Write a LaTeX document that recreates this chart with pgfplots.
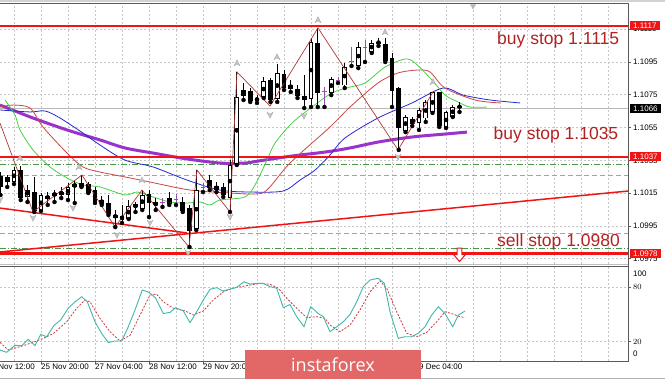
\documentclass[border=0pt]{standalone}
\usepackage{pgfplots}
\usepackage{pgfplotstable}
\pgfplotsset{compat=1.18}
\usepackage{fontspec}
\setmainfont{Liberation Sans}
\newfontfamily\wmfont{Open Sans}
\newcommand\lab{\fontsize{8bp}{9.6bp}\selectfont}
\definecolor{mapurple}{RGB}{153,51,204}
\definecolor{mablue}{RGB}{40,40,210}
\definecolor{mared}{RGB}{205,70,70}
\definecolor{magreen}{RGB}{70,210,70}
\definecolor{zz}{RGB}{175,55,55}
\definecolor{hred}{RGB}{240,20,20}
\definecolor{dgreen}{RGB}{70,150,70}
\definecolor{dorange}{RGB}{235,140,100}
\definecolor{labred}{RGB}{178,34,34}
\definecolor{stteal}{RGB}{64,184,170}
\definecolor{stred}{RGB}{200,60,70}
\definecolor{wm}{RGB}{226,104,104}
\definecolor{dojic}{RGB}{150,80,170}
\definecolor{frame}{RGB}{90,90,90}
% prices are shown relative to 1.1000 in pips on the drawing axis
\pgfplotsset{pip/.style={y filter/.expression={(y-1.1)*10000}}}

\pgfdeclareplotmark{fup}{%
 \pgfpathmoveto{\pgfqpoint{0pt}{3.2pt}}%
 \pgfpathlineto{\pgfqpoint{3pt}{-2.8pt}}%
 \pgfpathlineto{\pgfqpoint{0pt}{-1pt}}%
 \pgfpathlineto{\pgfqpoint{-3pt}{-2.8pt}}%
 \pgfpathclose\pgfusepathqfillstroke}
\pgfdeclareplotmark{fdown}{%
 \pgfpathmoveto{\pgfqpoint{0pt}{-3.2pt}}%
 \pgfpathlineto{\pgfqpoint{3pt}{2.8pt}}%
 \pgfpathlineto{\pgfqpoint{0pt}{1pt}}%
 \pgfpathlineto{\pgfqpoint{-3pt}{2.8pt}}%
 \pgfpathclose\pgfusepathqfillstroke}
\pgfdeclareplotmark{hdown}{%
 \pgfpathmoveto{\pgfqpoint{-2.4pt}{7pt}}%
 \pgfpathlineto{\pgfqpoint{2.4pt}{7pt}}%
 \pgfpathlineto{\pgfqpoint{2.4pt}{0.5pt}}%
 \pgfpathlineto{\pgfqpoint{6pt}{0.5pt}}%
 \pgfpathlineto{\pgfqpoint{0pt}{-6.5pt}}%
 \pgfpathlineto{\pgfqpoint{-6pt}{0.5pt}}%
 \pgfpathlineto{\pgfqpoint{-2.4pt}{0.5pt}}%
 \pgfpathclose\pgfusepathqfillstroke}

\pgfplotstableread{
i O H L C
3 1.10217 1.10260 1.10187 1.10242
4 1.10223 1.10309 1.10205 1.10290
6 1.10132 1.10199 1.10095 1.10168
8 1.10046 1.10150 1.10040 1.10138
10 1.10132 1.10168 1.10095 1.10150
11 1.10144 1.10187 1.10119 1.10156
12 1.10138 1.10211 1.10107 1.10181
13 1.10187 1.10229 1.10089 1.10205
17 1.10089 1.10132 1.10077 1.10107
21 1.09997 1.10107 1.09991 1.10071
22 1.10065 1.10095 1.10034 1.10077
23 1.10058 1.10168 1.10046 1.10138
25 1.10077 1.10119 1.10046 1.10089
27 1.10089 1.10156 1.10077 1.10119
31 1.09936 1.10290 1.09924 1.10168
34 1.10174 1.10217 1.10156 1.10193
36 1.10126 1.10351 1.10034 1.10321
37 1.10333 1.10889 1.10321 1.10736
38 1.10748 1.10822 1.10718 1.10779
40 1.10712 1.10748 1.10700 1.10730
41 1.10742 1.10858 1.10730 1.10828
43 1.10730 1.10938 1.10706 1.10883
48 1.10730 1.11097 1.10675 1.11072
51 1.10767 1.10858 1.10748 1.10846
53 1.10810 1.10944 1.10791 1.10919
55 1.10932 1.11072 1.10913 1.11042
57 1.11017 1.11084 1.11005 1.11066
62 1.10535 1.10626 1.10522 1.10614
64 1.10584 1.10669 1.10535 1.10657
65 1.10608 1.10718 1.10584 1.10700
66 1.10645 1.10767 1.10639 1.10761
68 1.10553 1.10651 1.10547 1.10639
69 1.10620 1.10687 1.10614 1.10675
}\bull
\pgfplotstableread{
i O H L C
2 1.10254 1.10278 1.10138 1.10193
5 1.10290 1.10315 1.10107 1.10126
7 1.10156 1.10248 1.10034 1.10046
9 1.10132 1.10156 1.10077 1.10119
14 1.10211 1.10260 1.10187 1.10187
15 1.10205 1.10217 1.10150 1.10156
16 1.10168 1.10187 1.10089 1.10095
18 1.10089 1.10138 1.10016 1.10028
19 1.10016 1.10046 1.09942 1.10003
20 1.10010 1.10077 1.09967 1.09991
24 1.10138 1.10168 1.10003 1.10089
29 1.10095 1.10126 1.10034 1.10046
30 1.10058 1.10077 1.09820 1.09924
33 1.10229 1.10260 1.10168 1.10187
35 1.10187 1.10211 1.10126 1.10144
39 1.10773 1.10791 1.10706 1.10718
42 1.10840 1.10852 1.10706 1.10718
44 1.10871 1.10901 1.10779 1.10797
45 1.10810 1.10840 1.10767 1.10791
46 1.10785 1.10810 1.10730 1.10748
47 1.10742 1.10871 1.10669 1.10718
49 1.11066 1.11158 1.10675 1.10767
58 1.11072 1.11097 1.11048 1.11066
59 1.11054 1.11097 1.10950 1.10962
60 1.10974 1.11005 1.10675 1.10779
61 1.10791 1.10797 1.10413 1.10547
63 1.10602 1.10614 1.10559 1.10577
67 1.10761 1.10767 1.10553 1.10565
70 1.10681 1.10706 1.10645 1.10675
}\bear
\pgfplotstableread{
i O H L C
26 1.10095 1.10119 1.10065 1.10095
28 1.10113 1.10144 1.10077 1.10113
32 1.10181 1.10211 1.10156 1.10181
50 1.10767 1.10797 1.10675 1.10767
52 1.10840 1.10858 1.10822 1.10840
54 1.10950 1.11042 1.10926 1.10950
56 1.11036 1.11084 1.10950 1.11036
}\doji

\begin{document}
\begin{tikzpicture}[x=1bp,y=1bp]
\useasboundingbox (0,0) rectangle (665,381);
\fill[white] (0,0) rectangle (665,381);
\fill[gray!35] (0,378.5) rectangle (665,381);

% ---------------- main price panel (y in pips above 1.1000) ----------------
\begin{axis}[
  at={(0bp,117bp)}, anchor=south west, scale only axis,
  width=628bp, height=260bp,
  xmin=0, xmax=628, ymin=-28.36, ymax=130.42,
  clip=false,
  axis line style={draw=none},
  xtick={14,41,...,608}, xticklabels={}, xtick style={draw=none},
  ytick={-25,-5,15,35,55,75,95,115},
  yticklabels={1.0975,1.0995,1.1015,1.1035,1.1055,1.1075,1.1095,1.1115},
  ytick pos=right, yticklabel pos=right,
  ytick style={draw=frame, line width=0.5bp},
  tick align=outside, major tick length=3bp,
  yticklabel style={font=\lab, anchor=west, inner sep=0pt, xshift=2bp},
  grid=major,
  major grid style={gray!45, line width=0.5bp, dash pattern=on 2bp off 2bp},
]
% horizontal levels
\addplot[pip, dgreen, line width=0.8bp, dash pattern=on 6bp off 2bp on 1bp off 2bp] coordinates {(0,1.10327) (628,1.10327)};
\addplot[pip, dgreen, line width=0.8bp, dash pattern=on 6bp off 2bp on 1bp off 2bp] coordinates {(0,1.09814) (628,1.09814)};
\addplot[pip, dorange, line width=0.8bp, dash pattern=on 5bp off 3bp] coordinates {(0,1.10260) (628,1.10260)};
\addplot[pip, dorange, line width=0.8bp, dash pattern=on 5bp off 3bp] coordinates {(0,1.09906) (628,1.09906)};
\addplot[pip, gray!55, line width=0.7bp] coordinates {(0,1.10665) (628,1.10665)};
% trend lines
\addplot[pip, hred, line width=1.5bp] coordinates {(0,1.10058) (187,1.09906)};
\addplot[pip, hred, line width=1.5bp] coordinates {(0,1.09790) (628,1.10162)};
% moving averages
\addplot[pip, mapurple, line width=3bp, smooth] coordinates {(0,1.10687)(33,1.10608)(67,1.10535)(100,1.10474)(125,1.10425)(153,1.10394)(187,1.10358)(220,1.10333)(245,1.10333)(258,1.10345)(292,1.10376)(325,1.10400)(350,1.10425)(378,1.10461)(412,1.10492)(445,1.10510)(467,1.10522)};
\addplot[pip, mablue, line width=0.8bp, smooth] coordinates {(0,1.10657)(30,1.10645)(45,1.10651)(60,1.10608)(83,1.10516)(100,1.10443)(125,1.10351)(153,1.10309)(187,1.10229)(220,1.10168)(250,1.10156)(283,1.10162)(300,1.10229)(315,1.10290)(330,1.10382)(345,1.10486)(378,1.10608)(412,1.10700)(443,1.10791)(463,1.10748)(490,1.10718)(520,1.10700)};
\addplot[pip, mared, line width=0.8bp, smooth] coordinates {(0,1.10675)(13,1.10687)(30,1.10669)(43,1.10553)(67,1.10394)(83,1.10309)(100,1.10278)(125,1.10248)(150,1.10217)(190,1.10168)(230,1.10150)(255,1.10144)(267,1.10168)(290,1.10333)(330,1.10553)(350,1.10675)(378,1.10822)(398,1.10883)(418,1.10901)(430,1.10889)(445,1.10791)(475,1.10718)(500,1.10700)};
\addplot[pip, magreen, line width=0.8bp, smooth] coordinates {(5,1.10718)(15,1.10626)(20,1.10535)(33,1.10413)(50,1.10309)(67,1.10242)(83,1.10199)(100,1.10187)(125,1.10138)(137,1.10156)(153,1.10126)(170,1.10095)(187,1.10089)(200,1.10095)(210,1.10077)(220,1.10107)(245,1.10126)(255,1.10199)(267,1.10351)(275,1.10455)(292,1.10577)(312,1.10675)(332,1.10761)(350,1.10797)(365,1.10822)(385,1.10919)(405,1.10968)(415,1.10944)(432,1.10840)(445,1.10748)(458,1.10706)(470,1.10675)(487,1.10675)};
% thick red levels
\addplot[pip, hred, line width=2.4bp] coordinates {(0,1.1117) (628,1.1117)};
\addplot[pip, hred, line width=2.4bp] coordinates {(0,1.1037) (628,1.1037)};
\addplot[pip, hred, line width=2.4bp] coordinates {(0,1.0978) (628,1.0978)};
% candles: wicks
\addplot[only marks, mark=none, error bars/.cd, y dir=plus, y explicit, error mark=none, error bar style={draw=black, line width=0.8bp}]
  table[x expr=-13+6.75*\thisrow{i}, y expr={(\thisrow{L}-1.1)*10000}, y error plus expr={(\thisrow{H}-\thisrow{L})*10000}] {\bull};
\addplot[only marks, mark=none, error bars/.cd, y dir=plus, y explicit, error mark=none, error bar style={draw=black, line width=0.8bp}]
  table[x expr=-13+6.75*\thisrow{i}, y expr={(\thisrow{L}-1.1)*10000}, y error plus expr={(\thisrow{H}-\thisrow{L})*10000}] {\bear};
\addplot[only marks, mark=none, error bars/.cd, y dir=plus, y explicit, error mark=none, error bar style={draw=dojic, line width=0.8bp}]
  table[x expr=-13+6.75*\thisrow{i}, y expr={(\thisrow{L}-1.1)*10000}, y error plus expr={(\thisrow{H}-\thisrow{L})*10000}] {\doji};
% bodies
\addplot[only marks, mark=none, error bars/.cd, y dir=both, y explicit, error mark=none, error bar style={draw=black, line width=4.6bp}]
  table[x expr=-13+6.75*\thisrow{i}, y expr={((\thisrow{O}+\thisrow{C})/2-1.1)*10000}, y error expr={abs(\thisrow{C}-\thisrow{O})*5000+0.3}] {\bull};
\addplot[only marks, mark=none, error bars/.cd, y dir=both, y explicit, error mark=none, error bar style={draw=white, line width=2.6bp}]
  table[x expr=-13+6.75*\thisrow{i}, y expr={((\thisrow{O}+\thisrow{C})/2-1.1)*10000}, y error expr={max(abs(\thisrow{C}-\thisrow{O})*5000-0.3,0)}] {\bull};
\addplot[only marks, mark=none, error bars/.cd, y dir=both, y explicit, error mark=none, error bar style={draw=black, line width=4.6bp}]
  table[x expr=-13+6.75*\thisrow{i}, y expr={((\thisrow{O}+\thisrow{C})/2-1.1)*10000}, y error expr={abs(\thisrow{C}-\thisrow{O})*5000+0.3}] {\bear};
\addplot[only marks, mark=-, mark size=2.4bp, mark options={draw=dojic, line width=1bp}]
  table[x expr=-13+6.75*\thisrow{i}, y expr={(\thisrow{O}-1.1)*10000}] {\doji};
% zigzag
\addplot[pip, zz, line width=0.7bp] coordinates {(0,1.10577)(33,1.10034)(82,1.10260)(115,1.09942)(142,1.10168)(189,1.09820)(197,1.10290)(230,1.10034)(237,1.10889)(270,1.10681)(318,1.11158)(398,1.10413)(433,1.10767)};
% fractals
\addplot[pip, only marks, mark=fup, mark options={fill=gray!45, draw=gray!70, line width=0.3bp}] coordinates {(20,1.10364)(79,1.10309)(142,1.10229)(237,1.10944)(277,1.10981)(318,1.11207)(385,1.11133)(433,1.10828)};
\addplot[pip, only marks, mark=fdown, mark options={fill=gray!45, draw=gray!70, line width=0.3bp}] coordinates {(0,1.10107)(33,1.09997)(73,1.10058)(117,1.09893)(150,1.09967)(188,1.09784)(230,1.10003)(270,1.10626)(304,1.10620)(398,1.10370)};
% shift marker and arrow
\addplot[pip, only marks, mark=triangle*, mark size=3bp, mark options={rotate=180, fill=gray!55, draw=gray!55}] coordinates {(473,1.11292)};
\addplot[pip, only marks, mark=hdown, mark options={fill=white, draw=hred, line width=1bp}] coordinates {(459.5,1.09771)};
% texts (positions in pips above 1.1000)
\node[anchor=base west, inner sep=0pt, text=labred, font=\fontsize{17.5bp}{20bp}\selectfont] at (axis cs:497,105.4) {buy stop 1.1115};
\node[anchor=base west, inner sep=0pt, text=labred, font=\fontsize{17.5bp}{20bp}\selectfont] at (axis cs:493.5,47.8) {buy stop 1.1035};
\node[anchor=base west, inner sep=0pt, text=labred, font=\fontsize{17.5bp}{20bp}\selectfont] at (axis cs:497,-17.4) {sell stop 1.0980};
% price boxes
\node[anchor=west, fill=hred, text=white, font=\lab, inner xsep=3.5bp, inner ysep=0pt, minimum height=9bp] at ([xshift=1.5bp]axis cs:628,117) {1.1117};
\node[anchor=west, fill=hred, text=white, font=\lab, inner xsep=3.5bp, inner ysep=0pt, minimum height=9bp] at ([xshift=1.5bp]axis cs:628,37) {1.1037};
\node[anchor=west, fill=hred, text=white, font=\lab, inner xsep=3.5bp, inner ysep=0pt, minimum height=9bp] at ([xshift=1.5bp]axis cs:628,-22) {1.0978};
\node[anchor=west, fill=black, text=white, font=\lab, inner xsep=3.5bp, inner ysep=0pt, minimum height=9bp] at ([xshift=1.5bp]axis cs:628,66.5) {1.1066};
\end{axis}

% ---------------- stochastic panel ----------------
\begin{axis}[
  at={(0bp,20bp)}, anchor=south west, scale only axis,
  width=628bp, height=94bp,
  xmin=0, xmax=628, ymin=-1.3, ymax=102.4,
  clip=false,
  axis line style={draw=none},
  xtick={41,95,149,203,257,311,365,419}, xticklabels={},
  minor xtick={14,41,...,608}, minor tick length=0pt,
  xtick pos=bottom,
  ytick={20,80}, ytick pos=right, yticklabel pos=right,
  tick align=outside, major tick length=3bp,
  tick style={draw=frame, line width=0.5bp},
  yticklabel style={font=\lab, anchor=west, inner sep=0pt, xshift=2bp},
  xminorgrids, ymajorgrids,
  minor grid style={gray!45, line width=0.5bp, dash pattern=on 2bp off 2bp},
  major grid style={gray!45, line width=0.5bp, dash pattern=on 2bp off 2bp},
]
\addplot[stred, line width=0.8bp, dash pattern=on 2bp off 1.5bp] coordinates {(0,19.3)(8.3,10.8)(20,14.5)(33.3,19.3)(43.3,23.7)(53.3,29)(66.7,42)(76.7,57)(85,66)(90,64)(100,45.8)(110,31)(120,20.8)(130,27)(140,49.4)(150,71.5)(156.7,72.3)(163.3,64)(173.3,57)(185,54)(193.3,49.4)(203.3,54)(213.3,66)(223.3,75)(233.3,79)(246.7,81.8)(260,84.4)(270,83.3)(278.3,79)(286.7,68)(296.7,57)(306.7,46.5)(316.7,47.6)(325,45.8)(330,38.4)(340,31)(350,38.4)(360,55)(370,75)(380,87)(386.7,79)(396.7,53)(406.7,29.3)(416.7,25.5)(426.7,30.3)(436.7,42)(445,53)(451.7,51)(460,47.6)(465,46.5)};
\addplot[stteal, line width=0.9bp] coordinates {(0,10.8)(6.7,8.3)(15,16)(21.7,15.6)(28.3,22.6)(35,15.6)(40.7,28)(46.7,25.5)(54,38)(60.7,44)(68.3,57)(75,64)(81.7,69.6)(87.3,64)(95,42)(101.7,29)(108.3,19)(115,20.8)(121.7,20.8)(128.3,36.5)(135,55)(142.3,77)(149,74.5)(155.7,68)(163.3,51)(170,52.4)(175.7,57.5)(183.3,54)(190,41)(196.7,53)(203.3,66)(210,77.8)(216.7,79.6)(222.7,76)(230,78)(236.7,80)(244,86)(250,83.6)(256.7,84.4)(263.3,84.4)(270,80.7)(276.7,79)(283.3,57.5)(290,61)(296.7,47.6)(304,36.5)(310.7,58.6)(318.3,51)(323.3,47.6)(330,31)(336.7,36.5)(343.3,42)(350,50)(356.7,64)(363.3,80.7)(370,88)(378.3,90)(384.3,84.4)(390,53)(398.3,23.7)(405,25.5)(411.7,25.5)(418.3,29.3)(425,36.5)(431.7,49.4)(438.3,58.6)(445,51)(452.7,36.5)(458.3,49.4)(465,53.8)};
\node[anchor=west, inner sep=0pt, font=\lab] at ([xshift=5bp]axis cs:628,95.4) {100};
\node[anchor=west, inner sep=0pt, font=\lab] at ([xshift=5bp]axis cs:628,6.4) {0};
% time labels
\node[anchor=north west, inner sep=0pt, font=\lab] at ([yshift=-3bp]axis cs:-13,-1.3) {22 Nov 12:00};
\node[anchor=north west, inner sep=0pt, font=\lab] at ([yshift=-3bp]axis cs:41,-1.3) {25 Nov 20:00};
\node[anchor=north west, inner sep=0pt, font=\lab] at ([yshift=-3bp]axis cs:95,-1.3) {27 Nov 04:00};
\node[anchor=north west, inner sep=0pt, font=\lab] at ([yshift=-3bp]axis cs:149,-1.3) {28 Nov 12:00};
\node[anchor=north west, inner sep=0pt, font=\lab] at ([yshift=-3bp]axis cs:203,-1.3) {29 Nov 20:00};
\node[anchor=north west, inner sep=0pt, font=\lab] at ([yshift=-3bp]axis cs:419,-1.3) {9 Dec 04:00};
\end{axis}

% frame lines
\draw[frame, line width=0.8bp] (0,377.6) -- (628.5,377.6);
\draw[gray!50, line width=0.6bp] (0,117) -- (628.5,117);
\draw[frame, line width=0.8bp] (0,114.3) -- (628.5,114.3);
\draw[frame, line width=0.8bp] (0,20) -- (628.5,20);
\draw[frame, line width=0.8bp] (628.5,20) -- (628.5,377.6);
\draw[gray!60, line width=0.8bp] (0,3) -- (665,3);

% watermark
\fill[wm] (245,2) rectangle (421,31.5);
\node[anchor=base, inner sep=0pt, text=white, font=\wmfont\fontsize{18bp}{20bp}\selectfont] at (333,9.5) {instaforex};
\end{tikzpicture}
\end{document}
